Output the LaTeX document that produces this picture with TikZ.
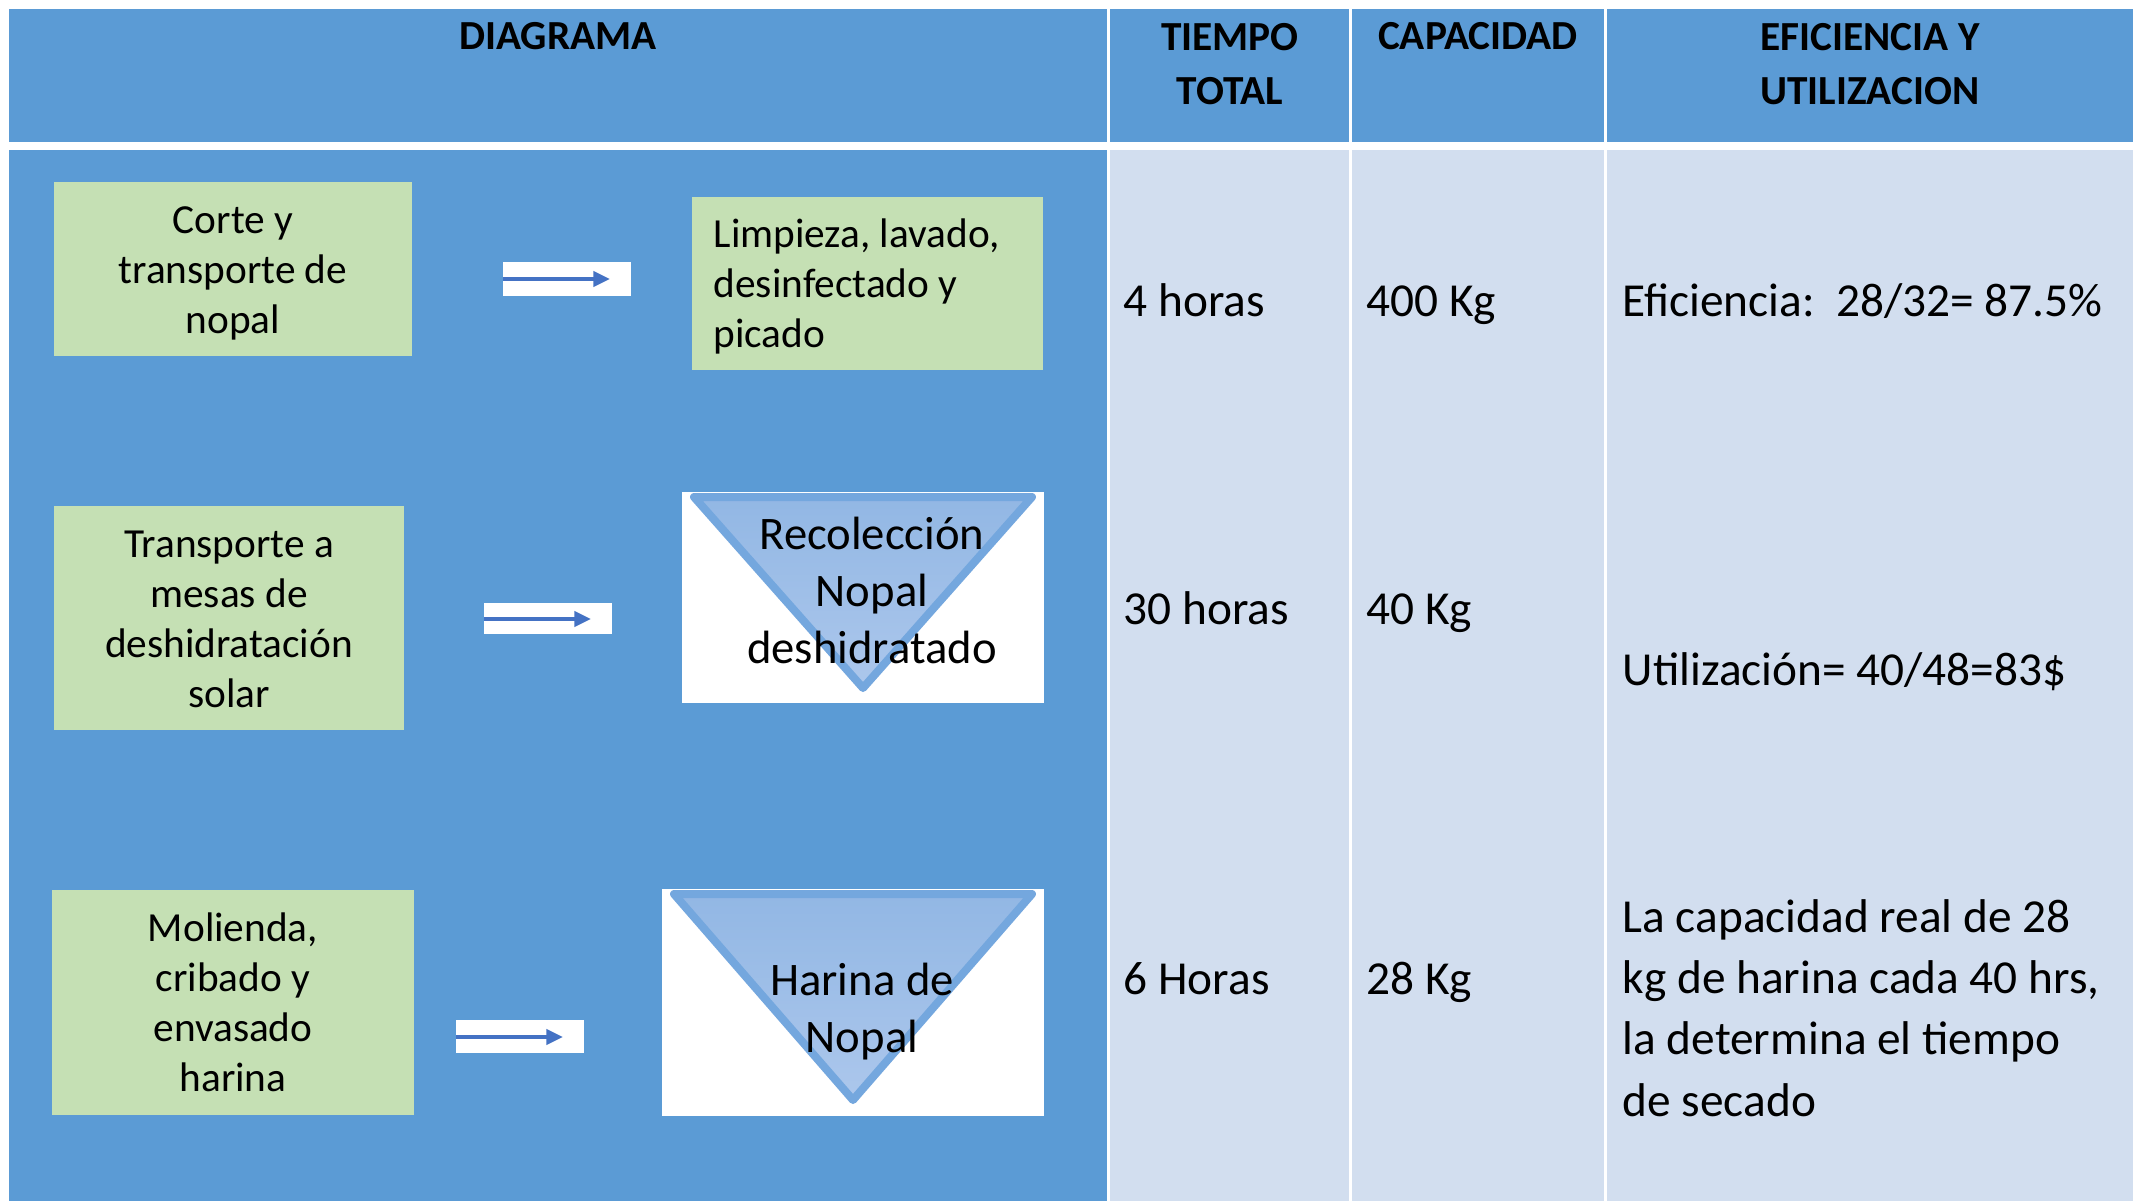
\documentclass[tikz,border=0pt]{standalone}
\usepackage{fontspec}
\setmainfont{Carlito}
\usetikzlibrary{arrows.meta}
\definecolor{azul}{RGB}{91,155,213}
\definecolor{celeste}{RGB}{210,222,239}
\definecolor{verde}{RGB}{197,224,180}
\definecolor{flechaazul}{RGB}{68,114,196}
\definecolor{triborde}{RGB}{116,167,222}
\definecolor{trisup}{RGB}{146,183,228}
\definecolor{triinf}{RGB}{172,199,236}

\begin{document}
\begin{tikzpicture}[x=0.3pt,y=-0.3pt,
    titulo/.style={font=\fontsize{12.4}{16.2}\selectfont\bfseries,align=center,anchor=base},
    caja/.style={font=\fontsize{12.4}{15}\selectfont,align=center,inner sep=0pt},
    embudotxt/.style={font=\fontsize{14}{17.1}\selectfont,align=center,inner sep=0pt},
    dato/.style={font=\fontsize{14.2}{18.4}\selectfont,anchor=base west,inner sep=0pt},
    flecha/.style={-{Triangle[length=5pt,width=4.5pt]},flechaazul,line width=1.35pt},
    embudo/.style={top color=trisup,bottom color=triinf,draw=triborde,line width=2.4pt,line join=round}]
                \useasboundingbox (0,0) rectangle (2133,1201);
                \fill[white] (0,0) rectangle (2133,1201);

                \fill[azul] (9,9) rectangle (1107,142);
                \fill[azul] (1110,9) rectangle (1349,142);
                \fill[azul] (1352,9) rectangle (1604,142);
                \fill[azul] (1607,9) rectangle (2133,142);
                \fill[azul] (9,150) rectangle (1107,1201);
                \fill[celeste] (1110,150) rectangle (1349,1201);
                \fill[celeste] (1352,150) rectangle (1604,1201);
                \fill[celeste] (1607,150) rectangle (2133,1201);

                \node[titulo] (diagrama) at (558,49) {DIAGRAMA};
                \node[titulo] (tiempo) at (1230,104) {TIEMPO\\TOTAL};
                \node[titulo] (capacidad) at (1478,49) {CAPACIDAD};
                \node[titulo] (eficiencia) at (1870,104) {EFICIENCIA Y\\UTILIZACION};

                \fill[verde] (54,182) rectangle (412,356);
                \node[caja] (corte) at (233,273) {Corte y\\transporte de\\nopal};
                \fill[verde] (692,197) rectangle (1043,370);
                \node[caja,align=left,anchor=west] (limpieza) at (713,286) {Limpieza, lavado,\\desinfectado y\\picado};
                \fill[verde] (54,506) rectangle (404,730);
                \node[caja] (transporte) at (229,619) {Transporte a\\mesas de\\deshidratación\\solar};
                \fill[verde] (52,890) rectangle (414,1115);
                \node[caja] (molienda) at (233,1002) {Molienda,\\cribado y\\envasado\\harina};

                \fill[white] (503,262) rectangle (631,296);
                \coordinate (f1a) at (503,279);
                \coordinate (f1b) at (610,279);
                \draw[flecha] (f1a) -- (f1b);
                \fill[white] (484,603) rectangle (612,634);
                \coordinate (f2a) at (484,619);
                \coordinate (f2b) at (591,619);
                \draw[flecha] (f2a) -- (f2b);
                \fill[white] (456,1020) rectangle (584,1053);
                \coordinate (f3a) at (456,1037);
                \coordinate (f3b) at (563,1037);
                \draw[flecha] (f3a) -- (f3b);

                \fill[white] (682,492) rectangle (1044,703);
                \filldraw[embudo] (694,497) -- (1032,497) -- (863,688) -- cycle;
                \node[embudotxt] (recoleccion) at (872,590) {Recolección\\Nopal\\deshidratado};
                \fill[white] (662,889) rectangle (1044,1116);
                \filldraw[embudo] (674,894) -- (1032,894) -- (853,1100) -- cycle;
                \node[embudotxt] (harina) at (862,1012) {Harina de\\Nopal};

                \node[dato] (t1) at (1123,316) {4 horas};
                \node[dato] (t2) at (1123,624) {30 horas};
                \node[dato] (t3) at (1123,994) {6 Horas};
                \node[dato] (c1) at (1366,316) {400 Kg};
                \node[dato] (c2) at (1366,624) {40 Kg};
                \node[dato] (c3) at (1366,994) {28 Kg};
                \node[dato] (e1) at (1622,316) {Eficiencia:\ \ 28/32= 87.5\%};
                \node[dato] (e2) at (1622,685) {Utilización= 40/48=83\$};
                \node[dato,align=left] (e3) at (1622,1116) {La capacidad real de 28\\kg de harina cada 40 hrs,\\la determina el tiempo\\de secado};
            \end{tikzpicture}
\end{document}
